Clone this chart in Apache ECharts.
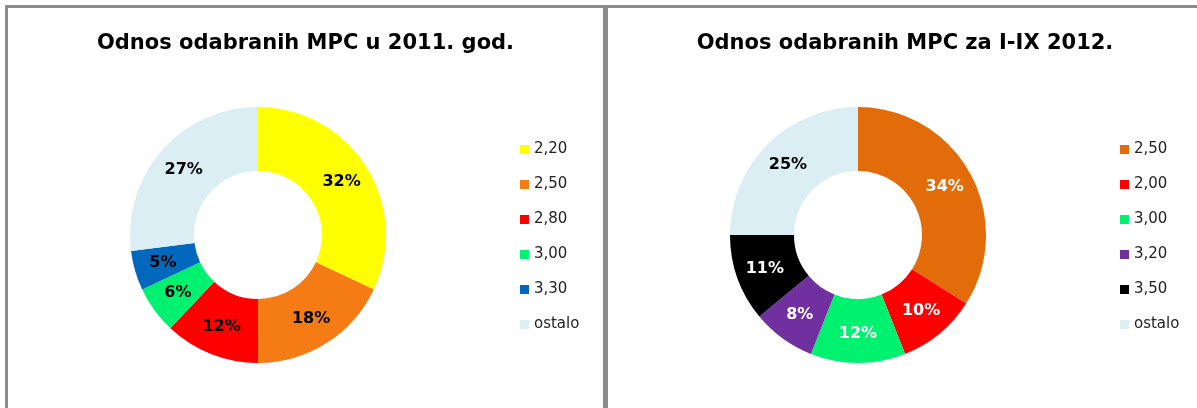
<!DOCTYPE html>
<html>
<head>
<meta charset="utf-8">
<script src="https://cdn.jsdelivr.net/npm/echarts@6/dist/echarts.min.js"></script>
<style>
  html, body { margin: 0; padding: 0; background: #fff; width: 1197px; height: 408px; overflow: hidden; position: relative; }
  .panel { position: absolute; top: 5px; height: 420px; border: 3px solid #8c8c8c; box-sizing: border-box; background: #fff; }
  #leftPanel { left: 5px; width: 601px; }
  #rightPanel { left: 605px; width: 600px; }
  .chart { width: 100%; height: 100%; }
</style>
</head>
<body>
<div class="panel" id="leftPanel"><div class="chart" id="chartLeft"></div></div>
<div class="panel" id="rightPanel"><div class="chart" id="chartRight"></div></div>
<script>
const titleLeft = 'Odnos odabranih MPC u 2011. god.';
const namesLeft = ['2,20', '2,50', '2,80', '3,00', '3,30', 'ostalo'];
const valuesLeft = [32, 18, 12, 6, 5, 27];
const colorsLeft = ['#ffff00', '#f57b15', '#ff0000', '#00f070', '#0068bc', '#daeef3'];
const labelColorsLeft = ['#000', '#000', '#000', '#000', '#000', '#000'];

const titleRight = 'Odnos odabranih MPC za I-IX 2012.';
const namesRight = ['2,50', '2,00', '3,00', '3,20', '3,50', 'ostalo'];
const valuesRight = [34, 10, 12, 8, 11, 25];
const colorsRight = ['#e36c0a', '#ff0000', '#00f070', '#7030a0', '#000000', '#daeef3'];
const labelColorsRight = ['#fff', '#fff', '#fff', '#fff', '#fff', '#000'];

const font = '"DejaVu Sans", Verdana, sans-serif';

function buildOption(title, names, values, colors, labelColors) {
  return {
    animation: false,
    title: {
      text: title,
      left: 'center',
      top: 20,
      textStyle: { fontFamily: font, fontSize: 21, fontWeight: 'bold', color: '#000' },
    },
    legend: {
      orient: 'vertical',
      left: 512,
      top: 134,
      padding: 0,
      icon: 'rect',
      itemWidth: 9,
      itemHeight: 9,
      itemGap: 20,
      selectedMode: false,
      textStyle: { fontFamily: font, fontSize: 15, lineHeight: 15, color: '#222' },
      data: names.map((n, i) => ({ name: n, itemStyle: { color: colors[i] } })),
    },
    series: [{
      type: 'pie',
      center: [250, 227],
      radius: [64, 128],
      startAngle: 90,
      clockwise: true,
      silent: true,
      labelLine: { show: false },
      itemStyle: { borderWidth: 0 },
      data: names.map((n, i) => ({
        name: n,
        value: values[i],
        itemStyle: { color: colors[i] },
        label: { color: labelColors[i] },
      })),
      label: {
        show: true,
        position: 'inside',
        formatter: '{c}%',
        fontFamily: font,
        fontSize: 16,
        fontWeight: 'bold',
      },
    }],
  };
}

const chartLeft = echarts.init(document.getElementById('chartLeft'));
chartLeft.setOption(buildOption(titleLeft, namesLeft, valuesLeft, colorsLeft, labelColorsLeft));
const chartRight = echarts.init(document.getElementById('chartRight'));
chartRight.setOption(buildOption(titleRight, namesRight, valuesRight, colorsRight, labelColorsRight));
</script>
</body>
</html>
